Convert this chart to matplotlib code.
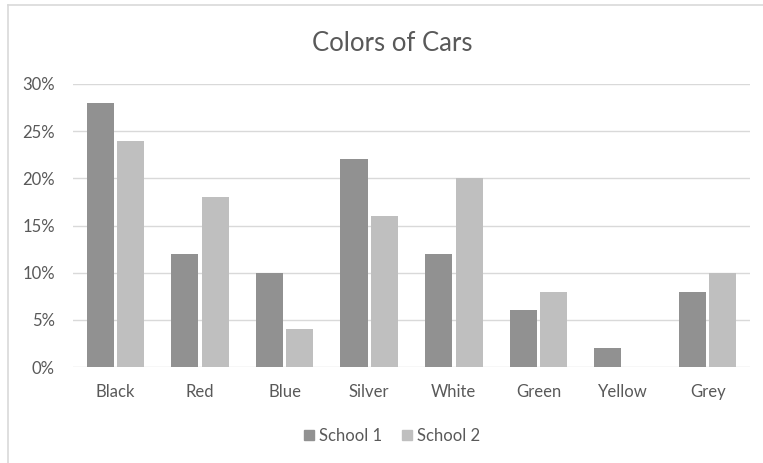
import numpy as np
import matplotlib.pyplot as plt
from matplotlib.lines import Line2D
from matplotlib.ticker import PercentFormatter

plt.rcParams['font.family'] = ['Lato', 'DejaVu Sans']

colors = ["Black", "Red", "Blue", "Silver", "White", "Green", "Yellow", "Grey"]
school1 = [28, 12, 10, 22, 12, 6, 2, 8]
school2 = [24, 18, 4, 16, 20, 8, 0, 10]

text_c = "#595959"
grid_c = "#d9d9d9"

fig = plt.figure(figsize=(7.63, 4.63), dpi=100)
ax = fig.add_axes([0.0957, 0.2073, 0.8873, 0.6113])

x = np.arange(len(colors))
w = 0.32
ax.bar(x - 0.18, school1, w, color="#919191", label="School 1", zorder=3)
ax.bar(x + 0.18, school2, w, color="#bfbfbf", label="School 2", zorder=3)

ax.set_xlim(-0.5, len(colors) - 0.5)
ax.set_ylim(0, 30)
ax.set_yticks(np.arange(0, 31, 5))
ax.yaxis.set_major_formatter(PercentFormatter(decimals=0))
ax.set_xticks(x)
ax.set_xticklabels(colors)
ax.tick_params(axis="both", length=0, colors=text_c, labelsize=12)
ax.tick_params(axis="x", pad=12)
ax.tick_params(axis="y", pad=13)
ax.grid(axis="y", color=grid_c, linewidth=1, zorder=0)
for s in ax.spines.values():
    s.set_visible(False)

fig.text(0.514, 0.905, "Colors of Cars", ha="center", va="center",
         fontsize=18.5, color=text_c)

handles = [Line2D([], [], marker="s", linestyle="none", markersize=7, color="#919191"),
           Line2D([], [], marker="s", linestyle="none", markersize=7, color="#bfbfbf")]
fig.legend(handles, ["School 1", "School 2"], loc="center", bbox_to_anchor=(0.512, 0.058),
           ncol=2, frameon=False, fontsize=12, labelcolor=text_c,
           handletextpad=0.1, columnspacing=1.0, handlelength=1)

# outer chart border (left and top edges)
fig.add_artist(Line2D([8 / 763, 8 / 763], [0, 1 - 5 / 463], color=grid_c, linewidth=1.2))
fig.add_artist(Line2D([8 / 763, 1], [1 - 5 / 463, 1 - 5 / 463], color=grid_c, linewidth=1.2))

fig.savefig("out.png", dpi=100, facecolor="white")
